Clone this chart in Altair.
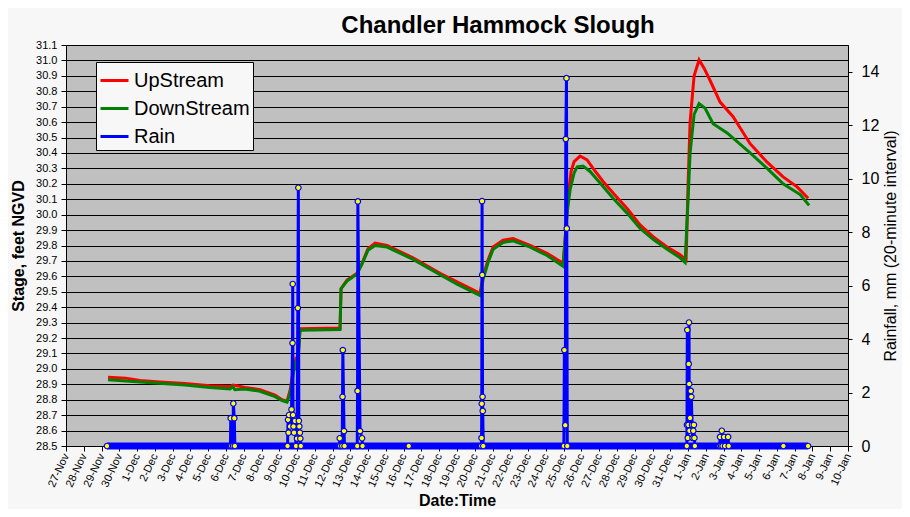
import altair as alt
import pandas as pd

BASE = pd.Timestamp("2001-11-27")
FONT = "Liberation Sans"

# time = days after 27-Nov 00:00
up_day = [2.364, 3.376, 4.164, 5.290, 6.697, 8.104, 9.229, 9.398, 10.073, 10.917,
          11.761, 12.155, 12.437, 12.606, 12.774, 12.943, 13.056, 13.168, 15.419, 15.476,
          15.813, 16.376, 16.657, 16.995, 17.389, 18.064, 19.527, 21.047, 22.004, 23.298,
          23.467, 23.748, 24.030, 24.592, 25.155, 26.111, 27.068, 27.969, 28.081, 28.250,
          28.419, 28.588, 28.925, 29.319, 29.657, 30.220, 30.782, 31.570, 32.302, 33.033,
          33.821, 34.553, 34.890, 35.003, 35.115, 35.340, 35.621, 35.903, 36.241, 36.804,
          37.535, 38.492, 39.449, 40.349, 41.137, 41.755]
up_stage = [28.945, 28.940, 28.925, 28.915, 28.905, 28.890, 28.885, 28.895, 28.880, 28.865,
            28.830, 28.800, 28.790, 28.860, 28.980, 29.070, 29.080, 29.260, 29.265, 29.520,
            29.575, 29.620, 29.685, 29.780, 29.815, 29.800, 29.720, 29.620, 29.565, 29.490,
            29.600, 29.706, 29.790, 29.835, 29.845, 29.800, 29.750, 29.685, 29.836, 30.117,
            30.280, 30.344, 30.380, 30.355, 30.300, 30.215, 30.140, 30.040, 29.933, 29.857,
            29.790, 29.740, 29.706, 30.200, 30.600, 30.900, 31.003, 30.950, 30.870, 30.730,
            30.635, 30.460, 30.340, 30.245, 30.180, 30.106]

down_day = [2.364, 4.164, 6.697, 8.104, 9.229, 9.398, 9.500, 10.073, 10.917, 11.761,
            12.155, 12.437, 12.606, 12.774, 12.943, 13.056, 13.168, 15.419, 15.476, 15.813,
            16.376, 16.657, 16.995, 17.389, 18.064, 19.527, 21.047, 22.004, 23.298, 23.467,
            23.748, 24.030, 24.592, 25.155, 26.111, 27.068, 27.969, 28.194, 28.362, 28.588,
            28.762, 29.094, 29.488, 30.051, 30.782, 31.570, 32.302, 33.033, 33.821, 34.553,
            34.834, 35.003, 35.115, 35.340, 35.621, 35.959, 36.410, 37.198, 38.492, 39.449,
            40.349, 41.306, 41.812]
down_stage = [28.930, 28.915, 28.895, 28.880, 28.870, 28.885, 28.865, 28.870, 28.855, 28.820,
              28.795, 28.785, 28.840, 28.960, 29.050, 29.060, 29.250, 29.255, 29.520, 29.570,
              29.615, 29.680, 29.770, 29.800, 29.790, 29.710, 29.610, 29.550, 29.475, 29.580,
              29.690, 29.775, 29.820, 29.830, 29.790, 29.735, 29.665, 30.010, 30.160, 30.270,
              30.310, 30.315, 30.280, 30.205, 30.106, 30.010, 29.910, 29.840, 29.776, 29.720,
              29.690, 30.100, 30.400, 30.650, 30.720, 30.690, 30.590, 30.530, 30.400, 30.300,
              30.200, 30.130, 30.060]

rain_day = [2.307, 9.255, 9.268, 9.300, 9.400, 9.415, 9.471, 9.500,
            12.465, 12.493, 12.521, 12.549, 12.606, 12.690, 12.746, 12.757, 12.774, 12.802,
            12.831, 12.887, 12.943, 12.999, 13.044, 13.073, 13.101, 13.129, 13.157, 13.185, 13.213,
            15.390, 15.402, 15.430, 15.540, 15.560, 15.577, 15.644, 15.672,
            16.387, 16.404, 16.421, 16.545, 16.657, 16.685, 19.285,
            23.366, 23.382, 23.393, 23.410, 23.421, 23.438, 23.449, 23.477,
            28.013, 28.042, 28.092, 28.120, 28.160, 28.177, 28.205,
            34.930, 34.941, 34.958, 34.986, 35.020, 35.037, 35.054, 35.065, 35.082, 35.115,
            35.155, 35.183, 35.228, 35.256, 35.295, 35.329, 35.357, 35.385,
            36.776, 36.804, 36.860, 36.899, 36.944, 37.029, 37.085, 37.254, 37.288,
            40.366, 41.755]
rain_mm = [0, 0, 1.04, 0, 0, 1.59, 1.04, 0,
           0, 0.98, 0.50, 1.16, 0.73, 1.37, 3.85, 6.06, 1.16, 0.73,
           0.50, 0.94, 0, 0.28, 5.16, 9.66, 0.94, 0.73, 0.50, 0.28, 0,
           0, 0.29, 0, 0, 1.84, 3.59, 0.56, 0,
           0, 2.06, 9.15, 0.56, 0.29, 0, 0,
           0, 0.30, 1.58, 9.16, 6.40, 1.84, 1.31, 0,
           0, 3.59, 0.78, 11.48, 13.76, 8.14, 0,
           0, 0.79, 4.34, 0.30, 0.79, 3.07, 4.62, 2.32, 0.57, 1.05,
           2.06, 1.84, 0.79, 0.30, 0.57, 0.79, 0.30, 0,
           0, 0.34, 0, 0.57, 0, 0.34, 0, 0.34, 0,
           0, 0]

stage_ticks = [round(28.5 + 0.1 * i, 1) for i in range(27)]
rain_ticks = [0, 2, 4, 6, 8, 10, 12, 14]
series_names = ["UpStream", "DownStream", "Rain"]
series_colors = ["#ff0000", "#008000", "#0000ff"]


def to_time(days):
    return (BASE + pd.to_timedelta(pd.Series(days), unit="D")).dt.strftime("%Y-%m-%dT%H:%M:%S")


stage_df = pd.concat([
    pd.DataFrame({"time": to_time(up_day), "stage": up_stage, "series": "UpStream", "order": range(len(up_day))}),
    pd.DataFrame({"time": to_time(down_day), "stage": down_stage, "series": "DownStream", "order": range(len(down_day))}),
], ignore_index=True)
rain_df = pd.DataFrame({"time": to_time(rain_day), "rain": rain_mm, "series": "Rain"})

x_enc = alt.X(
    "time:T",
    scale=alt.Scale(domain=[alt.DateTime(year=2001, month=11, date=27),
                            alt.DateTime(year=2002, month=1, date=10)]),
    axis=alt.Axis(
        title="Date:Time", tickCount={"interval": "day", "step": 1}, format="%-d-%b",
        labelAngle=-65, labelAlign="right", labelBaseline="middle", labelFontSize=11,
        labelPadding=3, labelOverlap=False, labelSeparation=0, labelBound=False,
        labelFlush=False, tickSize=5, grid=False, titleFontSize=16,
        titleFontWeight="bold", titlePadding=4,
    ),
)

color_enc = alt.Color(
    "series:N",
    scale=alt.Scale(domain=series_names, range=series_colors),
    legend=alt.Legend(
        orient="none", legendX=30, legendY=17, title=None, fillColor="#f7f7f7",
        strokeColor="#000000", padding=3, labelFontSize=20, labelFont=FONT,
        labelColor="black", symbolType="stroke", symbolStrokeWidth=3, symbolSize=784,
        rowPadding=2, labelOffset=4, labelLimit=300,
    ),
)

stage = alt.Chart(stage_df).mark_line(strokeWidth=3).encode(
    x=x_enc,
    y=alt.Y(
        "stage:Q",
        scale=alt.Scale(domain=[28.5, 31.1], nice=False, zero=False),
        axis=alt.Axis(
            orient="left", title="Stage, feet NGVD", values=stage_ticks, format=".1f",
            labelFontSize=11, tickSize=5, labelPadding=4, grid=True, gridColor="#000000",
            gridWidth=1, gridOpacity=1, titleFontSize=16, titleFontWeight="bold", titlePadding=9,
        ),
    ),
    color=color_enc,
    order="order:Q",
)

rain_y = alt.Y(
    "rain:Q",
    scale=alt.Scale(domain=[0, 15], nice=False),
    axis=alt.Axis(
        orient="right", title="Rainfall, mm (20-minute interval)", values=rain_ticks,
        labelFontSize=16, tickSize=4, labelPadding=9, grid=False, titleFontSize=16,
        titleFontWeight="normal", titleAngle=270, titlePadding=20,
    ),
)

rain_line = alt.Chart(rain_df).mark_line(strokeWidth=3).encode(
    x="time:T", y=rain_y, color=color_enc,
)
rain_band = alt.Chart(rain_df).transform_filter("datum.rain == 0").mark_line(
    strokeWidth=7, color="#0000ff"
).encode(x="time:T", y=alt.Y("rain:Q"))
rain_pts = alt.Chart(rain_df).mark_point(
    filled=True, shape="circle", size=30, fill="#ffff00", stroke="#0000ff",
    strokeWidth=1.2, opacity=1,
).encode(x="time:T", y=alt.Y("rain:Q"))

rain = alt.layer(rain_line, rain_band, rain_pts)

chart = alt.layer(stage, rain).resolve_scale(y="independent").properties(
    width=782,
    height=401,
    autosize=alt.AutoSizeParams(type="none"),
    padding={"left": 58, "top": 37, "right": 54, "bottom": 63},
    background="#f7f7f7",
    title=alt.TitleParams(
        "Chandler Hammock Slough", fontSize=24, font=FONT, fontWeight="bold",
        color="black", dx=41, offset=1, frame="group",
    ),
).configure_view(
    fill="#c0c0c0", stroke="#808080"
).configure_axis(
    labelFont=FONT, titleFont=FONT, labelColor="black", titleColor="black",
    domainColor="black", tickColor="black",
).configure_axisX(labelOverlap=False)

chart.save("out.html", embed_options={"renderer": "svg", "actions": False})
